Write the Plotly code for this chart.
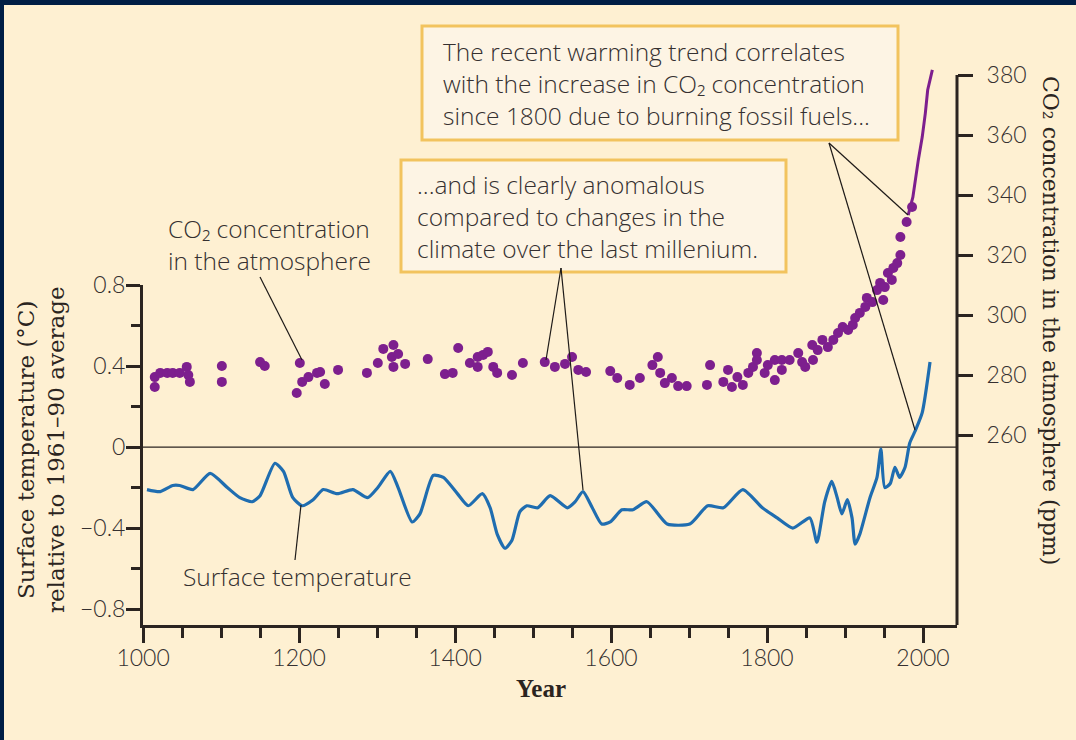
import plotly.graph_objects as go

# Surface temperature anomaly (°C, relative to the 1961–90 average)
temp_year = [1005, 1022, 1038, 1047, 1064, 1086, 1108, 1124, 1140, 1150, 1169, 1180,
             1192, 1204, 1218, 1231, 1249, 1269, 1288, 1301, 1317, 1327, 1345, 1355,
             1372, 1385, 1403, 1417, 1435, 1445, 1454, 1464, 1473, 1483, 1492, 1506,
             1522, 1544, 1554, 1564, 1576, 1588, 1599, 1614, 1628, 1646, 1672, 1701,
             1724, 1744, 1769, 1794, 1813, 1833, 1855, 1864, 1874, 1883, 1890, 1896,
             1903, 1909, 1913, 1919, 1932, 1941, 1946, 1951, 1958, 1964, 1970, 1977,
             1983, 1990, 1999, 2009]
temp_anom = [-0.21, -0.22, -0.19, -0.19, -0.21, -0.13, -0.20, -0.25, -0.27, -0.24, -0.08, -0.12,
             -0.25, -0.29, -0.26, -0.21, -0.23, -0.21, -0.25, -0.20, -0.12, -0.20, -0.37, -0.33,
             -0.14, -0.15, -0.23, -0.29, -0.23, -0.30, -0.43, -0.50, -0.46, -0.32, -0.29, -0.30,
             -0.24, -0.30, -0.27, -0.22, -0.30, -0.38, -0.37, -0.31, -0.31, -0.27, -0.38, -0.38,
             -0.29, -0.30, -0.21, -0.30, -0.35, -0.40, -0.35, -0.47, -0.27, -0.17, -0.25, -0.33,
             -0.26, -0.35, -0.48, -0.43, -0.25, -0.15, -0.01, -0.20, -0.18, -0.10, -0.15, -0.10,
             0.02, 0.08, 0.17, 0.42]

# CO2 concentration from ice cores and early samples (ppm)
co2_year = [1015, 1015, 1022, 1031, 1038, 1047, 1056, 1058, 1060, 1101, 1101, 1150,
            1156, 1197, 1201, 1204, 1212, 1223, 1227, 1233, 1250, 1287, 1301, 1308,
            1321, 1319, 1327, 1321, 1336, 1365, 1387, 1397, 1404, 1419, 1429, 1436,
            1442, 1429, 1449, 1454, 1473, 1487, 1515, 1528, 1541, 1550, 1558, 1568,
            1599, 1608, 1624, 1637, 1653, 1660, 1663, 1669, 1678, 1686, 1697, 1723,
            1727, 1744, 1750, 1755, 1762, 1769, 1776, 1782, 1787, 1787, 1797, 1801,
            1810, 1810, 1819, 1819, 1829, 1840, 1845, 1849, 1858, 1859, 1865, 1871,
            1878, 1885, 1891, 1897, 1904, 1910, 1913, 1919, 1926, 1928, 1935, 1941,
            1945, 1949, 1951, 1955, 1960, 1962, 1967, 1971, 1971, 1979, 1986]
co2_ppm = [279.3, 276.0, 280.7, 280.7, 280.7, 280.7, 282.7, 280.0, 277.7, 283.0, 277.7, 284.3,
           283.0, 274.0, 284.0, 277.7, 279.3, 280.7, 281.0, 277.0, 281.7, 280.7, 284.0, 288.7,
           290.0, 286.0, 287.0, 282.7, 283.7, 285.3, 280.3, 280.7, 289.0, 284.0, 286.0, 286.7,
           287.7, 282.7, 282.7, 280.7, 280.0, 284.0, 284.3, 282.7, 283.7, 286.0, 281.7, 281.0,
           281.3, 279.0, 276.7, 279.0, 283.3, 286.0, 280.7, 277.3, 279.0, 276.3, 276.3, 276.7,
           283.3, 277.7, 281.7, 276.0, 279.3, 276.7, 280.7, 282.7, 287.3, 285.0, 280.7, 283.3,
           278.3, 285.0, 285.0, 281.7, 285.0, 287.3, 284.3, 282.7, 290.0, 285.0, 288.3, 291.7,
           289.3, 291.7, 294.0, 296.0, 295.0, 296.7, 299.0, 300.7, 302.7, 305.7, 304.3, 308.3,
           310.7, 305.0, 309.3, 314.0, 311.7, 315.7, 317.3, 320.0, 326.0, 331.0, 336.0]

# Direct atmospheric CO2 measurements (ppm)
co2_line_year = [1981, 1987, 1994, 1999, 2003, 2006, 2012]
co2_line_ppm = [333.3, 339.3, 351.7, 359.3, 367.3, 375.0, 381.7]

year_ticks = [1000, 1200, 1400, 1600, 1800, 2000]
temp_ticks = [-0.8, -0.4, 0, 0.4, 0.8]
temp_tick_text = ["−0.8", "−0.4", "0", "0.4", "0.8"]
co2_ticks = [260, 280, 300, 320, 340, 360, 380]

BG = "#FEF0D2"
NAVY = "#001E45"
INK = "#2B2420"
TEXT = "#353030"
PURPLE = "#7D1F8E"
BLUE = "#1F6DB0"
BOX_FILL = "#FDF4E4"
BOX_EDGE = "#F2C35E"

W, H = 1076, 740
L, R, T, B = 143, 957, 60, 625


def px(x):
    return (x - L) / (R - L)


def py(y):
    return (B - y) / (B - T)


tick_font = dict(family="Lato", size=23, color=TEXT, weight=300)
label_font = dict(family="Open Sans", size=24.5, color=TEXT, weight=300)
title_font = dict(family="DejaVu Serif", size=23, color=INK)

fig = go.Figure()

fig.add_trace(go.Scatter(
    x=temp_year, y=temp_anom, mode="lines", xaxis="x", yaxis="y",
    line=dict(color=BLUE, width=3.2, shape="spline", smoothing=0.6),
    showlegend=False, hoverinfo="skip"))

fig.add_trace(go.Scatter(
    x=co2_line_year, y=co2_line_ppm, mode="lines", xaxis="x", yaxis="y2",
    line=dict(color=PURPLE, width=3), showlegend=False, hoverinfo="skip"))

fig.add_trace(go.Scatter(
    x=co2_year, y=co2_ppm, mode="markers", xaxis="x", yaxis="y2",
    marker=dict(color=PURPLE, size=10, line=dict(width=0)),
    showlegend=False, hoverinfo="skip", cliponaxis=False))

temp_top = py(285)

fig.update_layout(
    width=W, height=H,
    margin=dict(l=L, r=W - R, t=T, b=H - B, autoexpand=False),
    paper_bgcolor=BG, plot_bgcolor="rgba(0,0,0,0)",
    xaxis=dict(
        range=[999.9, 1000 + (R - L) / 0.78], domain=[0, 1], anchor="y",
        tickmode="array", tickvals=year_ticks, ticks="outside", ticklen=15,
        tickwidth=3, tickcolor=INK, showline=True, linewidth=3, linecolor=INK,
        showgrid=False, zeroline=False, tickfont=tick_font, ticklabelstandoff=-5,
        minor=dict(dtick=50, tick0=1000, ticks="outside", ticklen=10,
                   tickwidth=3, tickcolor=INK, showgrid=False),
        automargin=False),
    yaxis=dict(
        range=[(447 - B) / 202.5, (447 - 285) / 202.5 + 0.0005], domain=[0, temp_top],
        anchor="x", side="left",
        tickmode="array", tickvals=temp_ticks, ticktext=temp_tick_text,
        ticks="outside", ticklen=14, tickwidth=3, tickcolor=INK,
        showline=True, linewidth=3, linecolor=INK, showgrid=False, zeroline=False,
        tickfont=tick_font, ticklabelstandoff=-4,
        minor=dict(tickvals=[-0.6, -0.2, 0.2, 0.6], ticks="outside", ticklen=9,
                   tickwidth=3, tickcolor=INK, showgrid=False),
        automargin=False),
    yaxis2=dict(
        range=[380 - (B - 75) / 3.0, 380 + (75 - T) / 3.0], domain=[0, 1],
        anchor="x", side="right",
        tickmode="array", tickvals=co2_ticks, ticks="outside", ticklen=15,
        tickwidth=3, tickcolor=INK, showline=False, showgrid=False, zeroline=False,
        tickfont=tick_font, ticklabelstandoff=9, automargin=False),
)

shapes = []
# frame strips
shapes.append(dict(type="rect", xref="paper", yref="paper", x0=px(0), x1=px(W),
                   y0=py(0), y1=py(5), fillcolor=NAVY, line=dict(width=0), layer="above"))
shapes.append(dict(type="rect", xref="paper", yref="paper", x0=px(0), x1=px(4),
                   y0=py(0), y1=py(H), fillcolor=NAVY, line=dict(width=0), layer="above"))
# right axis spine, from the bottom axis up to the top tick
shapes.append(dict(type="line", xref="paper", yref="y2", x0=1, x1=1,
                   y0=380 - (B - 75) / 3.0, y1=380, line=dict(color=INK, width=3)))
# zero reference line
shapes.append(dict(type="line", xref="paper", yref="y", x0=0, x1=1, y0=0, y1=0,
                   line=dict(color=INK, width=1.3), layer="below"))
# callout boxes
shapes.append(dict(type="rect", xref="paper", yref="paper", x0=px(422), x1=px(898),
                   y0=py(140), y1=py(26), fillcolor=BOX_FILL,
                   line=dict(color=BOX_EDGE, width=3)))
shapes.append(dict(type="rect", xref="paper", yref="paper", x0=px(401), x1=px(786),
                   y0=py(272), y1=py(160), fillcolor=BOX_FILL,
                   line=dict(color=BOX_EDGE, width=3)))
# leader lines
leaders = [((260, 277), (302, 360)),
           ((301, 505), (295, 560)),
           ((561, 268), (546, 360)),
           ((561, 268), (583, 490)),
           ((829, 143), (908, 215)),
           ((829, 143), (915, 430))]
for (x0, y0), (x1, y1) in leaders:
    shapes.append(dict(type="line", xref="paper", yref="paper", x0=px(x0), y0=py(y0),
                       x1=px(x1), y1=py(y1), line=dict(color="#1E1A18", width=1.2)))
fig.update_layout(shapes=shapes)


def label(text, left, mid):
    return dict(x=px(left), y=py(mid), xref="paper", yref="paper",
                xanchor="left", yanchor="middle", align="left", showarrow=False,
                font=label_font, text=text)


annotations = [
    label("The recent warming trend correlates<br>"
          "with the increase in CO₂ concentration<br>"
          "since 1800 due to burning fossil fuels...", 441, 83),
    label("...and is clearly anomalous<br>compared to changes in the<br>"
          "climate over the last millenium.", 415, 216),
    label("CO₂ concentration<br>in the atmosphere", 166, 244),
    label("Surface temperature", 181, 576),
    dict(x=px(541), y=py(688), xref="paper", yref="paper", xanchor="center", yanchor="middle",
         showarrow=False, font=dict(family="Liberation Serif", size=25, color=INK, weight="bold"),
         text="<b>Year</b>"),
    dict(x=px(41), y=py(449), xref="paper", yref="paper", xanchor="center", yanchor="middle",
         showarrow=False, textangle=-90, font=title_font,
         text="Surface temperature (°C)<br>relative to 1961–90 average"),
    dict(x=px(1051), y=py(320), xref="paper", yref="paper", xanchor="center", yanchor="middle",
         showarrow=False, textangle=90, font=dict(family="DejaVu Serif", size=22, color=INK),
         text="CO₂ concentration in the atmosphere (ppm)"),
]
fig.update_layout(annotations=annotations)

fig.write_html("out.html")
